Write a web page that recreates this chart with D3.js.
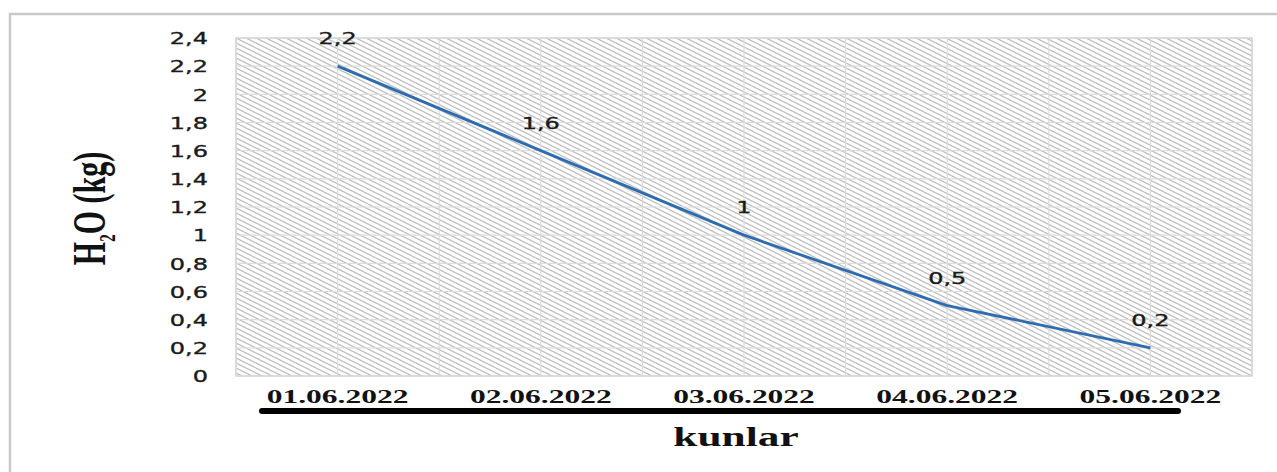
<!DOCTYPE html>
<html><head><meta charset="utf-8">
<script src="https://cdn.jsdelivr.net/npm/d3@7"></script>
<style>html,body{margin:0;padding:0;background:#fff;}svg{display:block;}</style>
</head><body>
<svg id="c" width="1277" height="472"></svg>
<script>
const categories = ["01.06.2022","02.06.2022","03.06.2022","04.06.2022","05.06.2022"];
const values = [2.2, 1.6, 1, 0.5, 0.2];
const valueLabels = ["2,2","1,6","1","0,5","0,2"];
const yTicks = [0,0.2,0.4,0.6,0.8,1,1.2,1.4,1.6,1.8,2,2.2,2.4];
const yTickLabels = ["0","0,2","0,4","0,6","0,8","1","1,2","1,4","1,6","1,8","2","2,2","2,4"];
const xTitle = "kunlar";

const svg = d3.select("#c");
const L = 236, R = 1252, T = 38, B = 376;

// pattern
const defs = svg.append("defs");
const pat = defs.append("pattern").attr("id","hatch").attr("patternUnits","userSpaceOnUse")
  .attr("width",10).attr("height",5);
pat.append("rect").attr("width",10).attr("height",5).attr("fill","#fff");
pat.append("path").attr("d","M-10,-5 L10,5 M0,-5 L20,5 M-10,0 L10,10")
  .attr("stroke","#bdbdbd").attr("stroke-width",1.15);

// outer frame
svg.append("rect").attr("x",10).attr("y",14).attr("width",1300).attr("height",500)
  .attr("fill","none").attr("stroke","#c9c9c9").attr("stroke-width",2.5);

const x = d3.scaleBand().domain(categories).range([L,R]);
const y = d3.scaleLinear().domain([0,2.4]).range([B,T]);

svg.append("rect").attr("x",L).attr("y",T).attr("width",R-L).attr("height",B-T)
  .attr("fill","url(#hatch)");

// grid
const hg = svg.append("g");
hg.selectAll("line.h").data(yTicks).join("line")
  .attr("x1",L).attr("x2",R).attr("y1",d=>y(d)).attr("y2",d=>y(d))
  .attr("stroke","#dcdcdc").attr("stroke-width",1.2);
const vPos = [];
categories.forEach(c=>{ vPos.push(x(c)); vPos.push(x(c)+x.bandwidth()/2); });
vPos.push(R);
hg.selectAll("line.v").data(vPos).join("line")
  .attr("x1",d=>d).attr("x2",d=>d).attr("y1",T).attr("y2",B)
  .attr("stroke","#dcdcdc").attr("stroke-width",1.2);
svg.append("rect").attr("x",L).attr("y",T).attr("width",R-L).attr("height",B-T)
  .attr("fill","none").attr("stroke","#d6d6d6").attr("stroke-width",1.5);

// y tick labels
const yAxis = d3.axisLeft(y).tickValues(yTicks).tickSize(0).tickFormat((d,i)=>yTickLabels[i]);
const ya = svg.append("g").attr("transform",`translate(208,0)`).call(yAxis);
ya.select(".domain").remove();
ya.selectAll("text").attr("x",0).attr("dy","0.36em")
  .attr("font-family","DejaVu Sans").attr("font-size",16).attr("fill","#1a1a1a")
  .attr("stroke","#1a1a1a").attr("stroke-width",0.35)
  .attr("text-anchor","end")
  .attr("transform",function(d){ return `translate(0,${y(d)}) scale(1.5,1) translate(0,${-y(d)})`; });

// line
const cx = c => x(c)+x.bandwidth()/2;
const line = d3.line().x((d,i)=>cx(categories[i])).y(d=>y(d));
svg.append("path").datum(values).attr("d",line).attr("fill","none")
  .attr("stroke","#2e6cb0").attr("stroke-width",2.8).attr("stroke-linejoin","round");

// data labels
svg.append("g").selectAll("text").data(values).join("text")
  .attr("transform",(d,i)=>`translate(${cx(categories[i])},${y(d)-22}) scale(1.5,1)`)
  .attr("text-anchor","middle").attr("font-family","DejaVu Sans").attr("font-size",16)
  .attr("fill","#1a1a1a").attr("stroke","#1a1a1a").attr("stroke-width",0.35)
  .text((d,i)=>valueLabels[i]);

// x labels
const xAxis = d3.axisBottom(x).tickSize(0);
const xa = svg.append("g").attr("transform",`translate(0,${B})`).call(xAxis);
xa.select(".domain").remove();
xa.selectAll("text").attr("y",0).attr("dy",0)
  .attr("font-family","Liberation Serif").attr("font-weight","bold").attr("font-size",18)
  .attr("fill","#111")
  .attr("transform","translate(0,27) scale(1.75,1)");

// thick underline
svg.append("line").attr("x1",262).attr("x2",1178).attr("y1",411).attr("y2",411)
  .attr("stroke","#000").attr("stroke-width",6).attr("stroke-linecap","round");

// x title
svg.append("text").attr("transform","translate(736,446) scale(1.55,1)")
  .attr("text-anchor","middle").attr("font-family","Liberation Serif").attr("font-weight","bold")
  .attr("font-size",28).attr("fill","#111").text(xTitle);

// y title
const yt = svg.append("text").attr("transform","translate(89,208.5) scale(1.55,1) rotate(-90)")
  .attr("text-anchor","middle").attr("dy","0.35em")
  .attr("font-family","Liberation Serif").attr("font-weight","bold").attr("font-size",30).attr("fill","#111");
yt.append("tspan").text("H");
yt.append("tspan").attr("font-size",15).attr("dy",6).text("2");
yt.append("tspan").attr("dy",-6).text("O (kg)");
</script>
</body></html>
